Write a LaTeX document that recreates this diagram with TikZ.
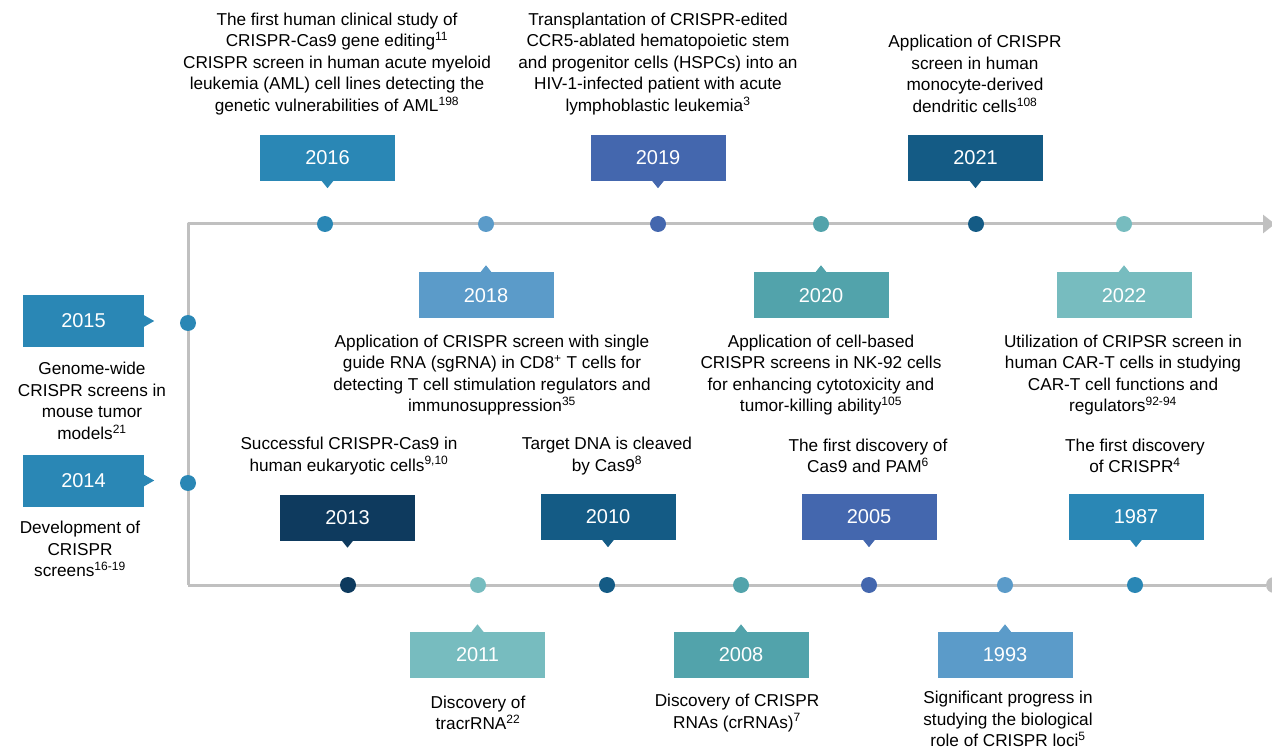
\documentclass[tikz,border=0pt]{standalone}
\usepackage{fontspec}
\setmainfont{Liberation Sans}
\usetikzlibrary{arrows.meta,calc}
\definecolor{cA}{HTML}{2A87B5}
\definecolor{cB}{HTML}{4467AE}
\definecolor{cC}{HTML}{145B85}
\definecolor{cD}{HTML}{5B9BC9}
\definecolor{cE}{HTML}{52A3AB}
\definecolor{cF}{HTML}{77BCBF}
\definecolor{cG}{HTML}{0E3A5E}
\definecolor{lineGray}{HTML}{C0C0C0}
\newcommand{\ptrdown}[2]{\fill[#2] ($(#1.south)+(-6,-0.5)$) -- ($(#1.south)+(0,7)$) -- ($(#1.south)+(6,-0.5)$) -- cycle;}
\newcommand{\ptrup}[2]{\fill[#2] ($(#1.north)+(-6,0.5)$) -- ($(#1.north)+(0,-7)$) -- ($(#1.north)+(6,0.5)$) -- cycle;}
\newcommand{\ptrright}[2]{\fill[#2] ($(#1.east)+(-0.5,-6)$) -- ($(#1.east)+(10,0)$) -- ($(#1.east)+(-0.5,6)$) -- cycle;}
\begin{document}
\begin{tikzpicture}[x=1pt,y=-1pt,
  yearbox/.style={fill=#1, minimum width=135pt, minimum height=46pt, inner sep=0pt, text=white, font=\fontsize{20}{24}\selectfont},
  sidebox/.style={yearbox=#1, minimum width=121pt, minimum height=52pt},
  dot/.style={circle, fill=#1, minimum size=16pt, inner sep=0pt},
  desc/.style={align=center, font=\fontsize{17.2}{21.5}\selectfont, inner sep=0pt, text=black},
  tline/.style={draw=lineGray, line width=3pt}]
\useasboundingbox (0,0) rectangle (1272,751);

% timeline
\coordinate (tl) at (188,224);
\coordinate (bl) at (188,585);
\coordinate (tr) at (1275,224);
\node[dot=lineGray] (endc) at (1274,585) {};
\draw[tline,line join=round,-{Triangle[length=12pt,width=18pt]}] (bl) -- (tl) -- (tr);
\draw[tline] (bl) -- (endc);

% dots
\node[dot=cA] (d16) at (325,224) {};
\node[dot=cD] (d18) at (486,224) {};
\node[dot=cB] (d19) at (658,224) {};
\node[dot=cE] (d20) at (821,224) {};
\node[dot=cC] (d21) at (976,224) {};
\node[dot=cF] (d22) at (1124,224) {};
\node[dot=cA] (d15) at (188,323) {};
\node[dot=cA] (d14) at (188,483) {};
\node[dot=cG] (d13) at (348,585) {};
\node[dot=cF] (d11) at (478,585) {};
\node[dot=cC] (d10) at (607,585) {};
\node[dot=cE] (d08) at (741,585) {};
\node[dot=cB] (d05) at (869,585) {};
\node[dot=cD] (d93) at (1005,585) {};
\node[dot=cA] (d87) at (1135,585) {};

% year boxes
\node[yearbox=cA] (b16) at (327.5,158) {2016}; \ptrdown{b16}{cA}
\node[yearbox=cB] (b19) at (658,158) {2019}; \ptrdown{b19}{cB}
\node[yearbox=cC] (b21) at (975.5,158) {2021}; \ptrdown{b21}{cC}
\node[yearbox=cD] (b18) at (486,295.5) {2018}; \ptrup{b18}{cD}
\node[yearbox=cE] (b20) at (821,295.5) {2020}; \ptrup{b20}{cE}
\node[yearbox=cF] (b22) at (1124,295.5) {2022}; \ptrup{b22}{cF}
\node[sidebox=cA] (b15) at (83.5,321) {2015}; \ptrright{b15}{cA}
\node[sidebox=cA] (b14) at (83.5,480.5) {2014}; \ptrright{b14}{cA}
\node[yearbox=cG] (b13) at (347.5,517.5) {2013}; \ptrdown{b13}{cG}
\node[yearbox=cC] (b10) at (608,517) {2010}; \ptrdown{b10}{cC}
\node[yearbox=cB] (b05) at (869,517) {2005}; \ptrdown{b05}{cB}
\node[yearbox=cA] (b87) at (1136,517) {1987}; \ptrdown{b87}{cA}
\node[yearbox=cF] (b11) at (477.5,654.5) {2011}; \ptrup{b11}{cF}
\node[yearbox=cE] (b08) at (741,654.5) {2008}; \ptrup{b08}{cE}
\node[yearbox=cD] (b93) at (1005,654.5) {1993}; \ptrup{b93}{cD}

% descriptions
\node[desc] (t16) at (337,64) {The first human clinical study of\\CRISPR-Cas9 gene editing\textsuperscript{11}\\CRISPR screen in human acute myeloid\\leukemia (AML) cell lines detecting the\\genetic vulnerabilities of AML\textsuperscript{198}};
\node[desc] (t19) at (658,64) {Transplantation of CRISPR-edited\\CCR5-ablated hematopoietic stem\\and progenitor cells (HSPCs) into an\\HIV-1-infected patient with acute\\lymphoblastic leukemia\textsuperscript{3}};
\node[desc] (t21) at (975,74) {Application of CRISPR\\screen in human\\monocyte-derived\\dendritic cells\textsuperscript{108}};
\node[desc] (t18) at (492,375) {Application of CRISPR screen with single\\guide RNA (sgRNA) in CD8\textsuperscript{+} T cells for\\detecting T cell stimulation regulators and\\immunosuppression\textsuperscript{35}};
\node[desc] (t20) at (821,375) {Application of cell-based\\CRISPR screens in NK-92 cells\\for enhancing cytotoxicity and\\tumor-killing ability\textsuperscript{105}};
\node[desc] (t22) at (1123,375) {Utilization of CRIPSR screen in\\human CAR-T cells in studying\\CAR-T cell functions and\\regulators\textsuperscript{92-94}};
\node[desc] (t15) at (92,401) {Genome-wide\\CRISPR screens in\\mouse tumor\\models\textsuperscript{21}};
\node[desc] (t14) at (80,549) {Development of\\CRISPR\\screens\textsuperscript{16-19}};
\node[desc] (t13) at (349,456) {Successful CRISPR-Cas9 in\\human eukaryotic cells\textsuperscript{9,10}};
\node[desc] (t10) at (607,456) {Target DNA is cleaved\\by Cas9\textsuperscript{8}};
\node[desc] (t05) at (868,456) {The first discovery of\\Cas9 and PAM\textsuperscript{6}};
\node[desc] (t87) at (1135,456) {The first discovery\\of CRISPR\textsuperscript{4}};
\node[desc] (t11) at (478,713) {Discovery of\\tracrRNA\textsuperscript{22}};
\node[desc] (t08) at (737,713) {Discovery of CRISPR\\RNAs (crRNAs)\textsuperscript{7}};
\node[desc] (t93) at (1008,719) {Significant progress in\\studying the biological\\role of CRISPR loci\textsuperscript{5}};
\end{tikzpicture}
\end{document}
